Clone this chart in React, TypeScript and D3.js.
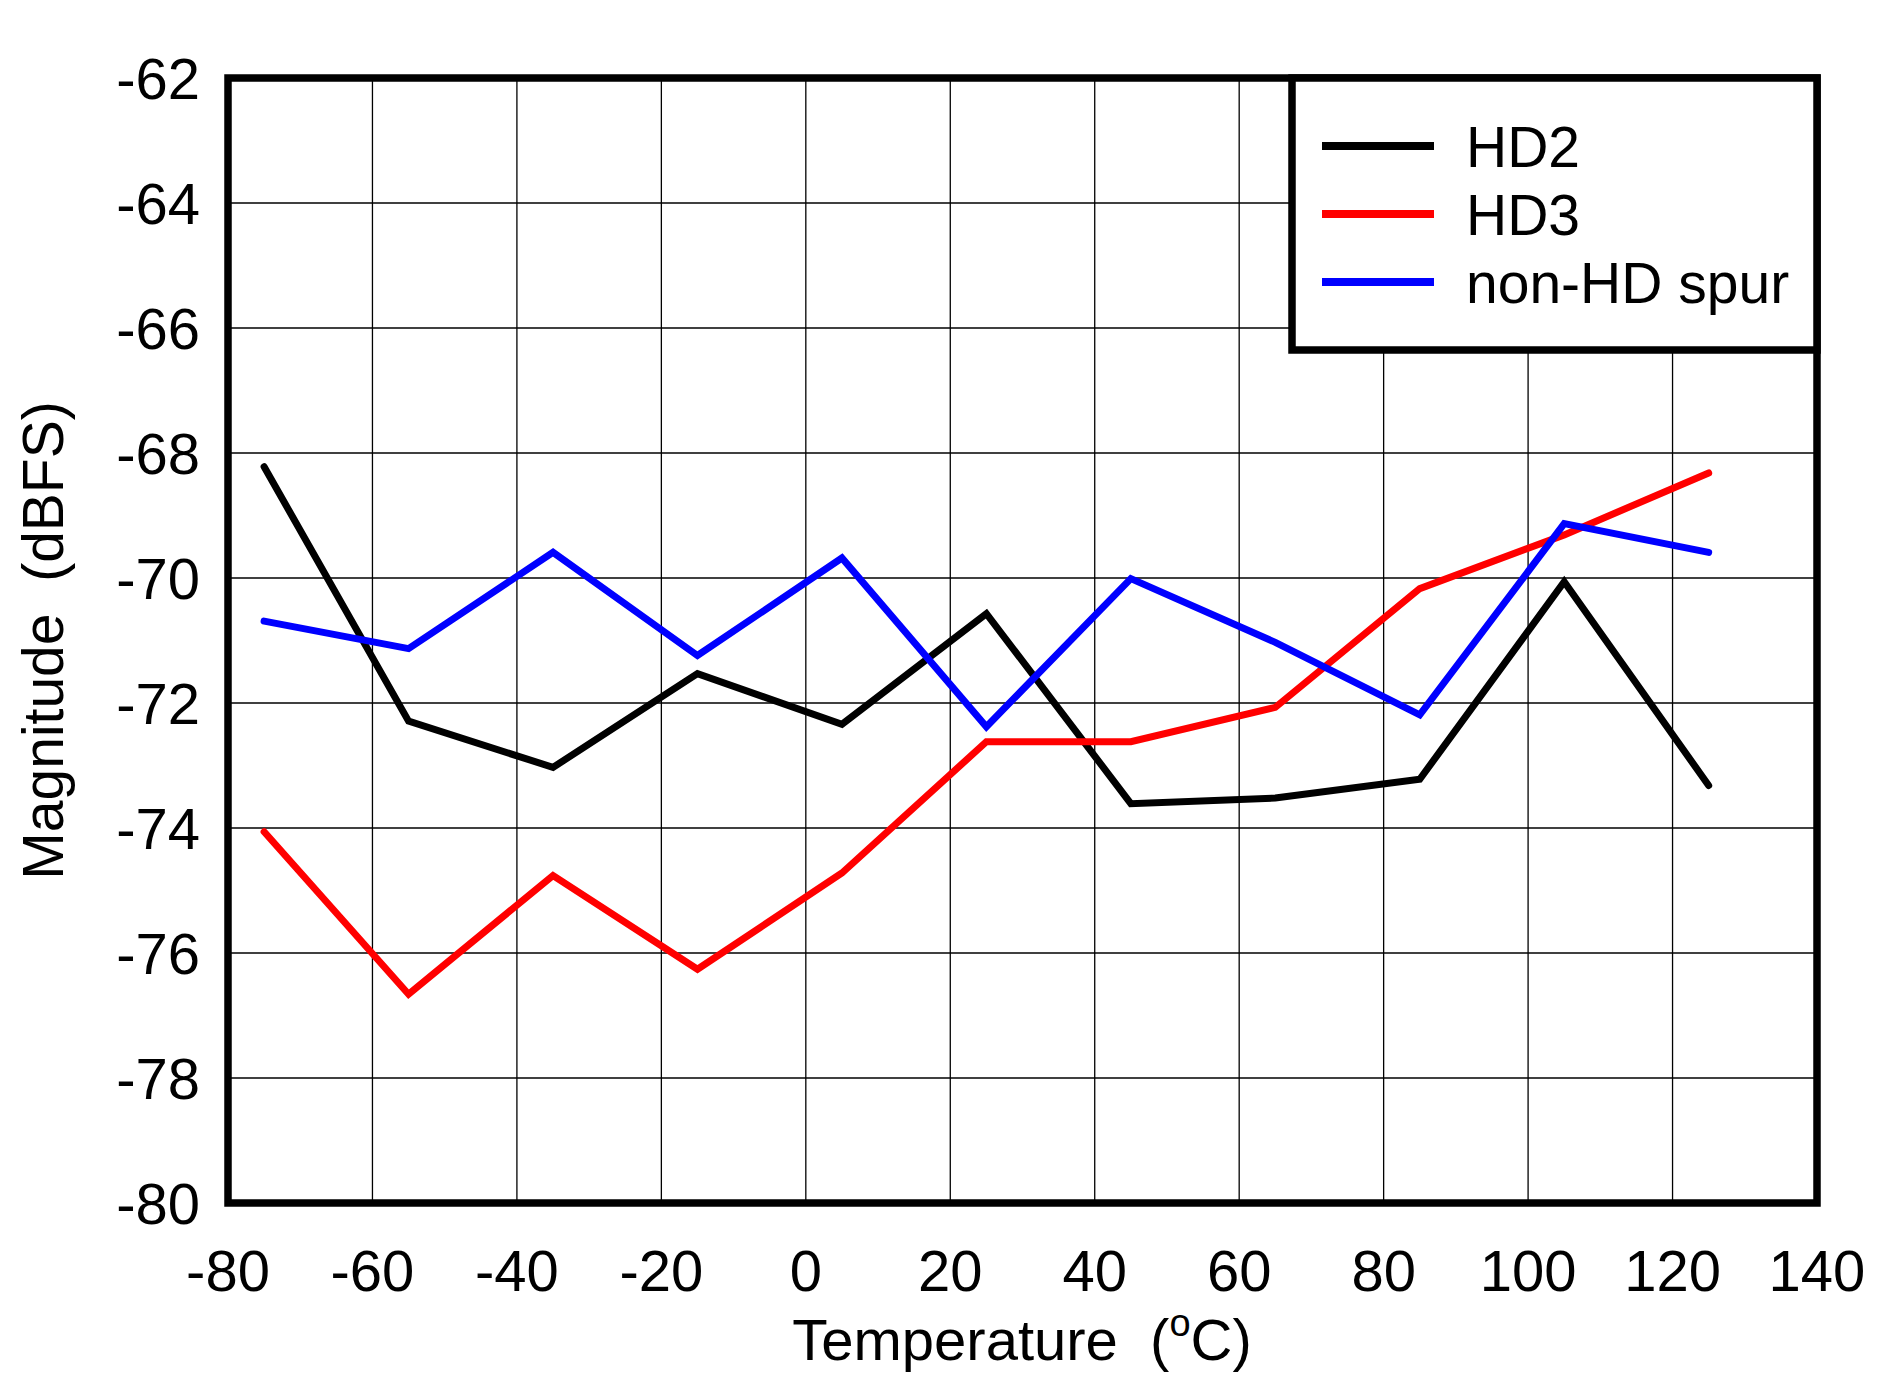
import * as d3 from 'd3';

const temps = [-75, -55, -35, -15, 5, 25, 45, 65, 85, 105, 125];
const hd2 = [-68.22, -72.29, -73.03, -71.53, -72.34, -70.57, -73.61, -73.52, -73.22, -70.06, -73.32];
const hd3 = [-74.06, -76.66, -74.76, -76.26, -74.72, -72.62, -72.62, -72.07, -70.17, -69.31, -68.32];
const nonHd = [-70.69, -71.13, -69.59, -71.24, -69.68, -72.38, -70.01, -71.03, -72.19, -69.13, -69.59];

const xTicks = [-80, -60, -40, -20, 0, 20, 40, 60, 80, 100, 120, 140];
const yTicks = [-62, -64, -66, -68, -70, -72, -74, -76, -78, -80];

const series = [
  { name: 'HD2', values: hd2, color: '#000000' },
  { name: 'HD3', values: hd3, color: '#ff0000' },
  { name: 'non-HD spur', values: nonHd, color: '#0000ff' },
];

const W = 1902;
const H = 1382;
const plot = { left: 228, right: 1817, top: 78, bottom: 1203 };
const font = '"Liberation Sans", Arial, Helvetica, sans-serif';

export default function App() {
  const x = d3.scaleLinear().domain([-80, 140]).range([plot.left, plot.right]);
  const y = d3.scaleLinear().domain([-80, -62]).range([plot.bottom, plot.top]);

  const line = d3.line<number>()
    .x((_, i) => x(temps[i]))
    .y(d => y(d));

  // legend box geometry
  const lg = { x0: 1292, x1: plot.right, y0: plot.top, y1: 350 };
  const legendRowY = (i: number) => 146 + i * 68;

  return (
    <svg width={W} height={H} style={{ position: 'absolute', left: 0, top: 0, background: '#fff' }}>
      <rect x={0} y={0} width={W} height={H} fill="#fff" />

      {/* grid */}
      <g stroke="#000" strokeWidth={1.3}>
        {xTicks.slice(1, -1).map(t => (
          <line key={'gx' + t} x1={x(t)} x2={x(t)} y1={plot.top} y2={plot.bottom} />
        ))}
        {yTicks.slice(1, -1).map(t => (
          <line key={'gy' + t} x1={plot.left} x2={plot.right} y1={y(t)} y2={y(t)} />
        ))}
      </g>

      {/* data */}
      {series.map(s => (
        <path
          key={s.name}
          d={line(s.values)!}
          fill="none"
          stroke={s.color}
          strokeWidth={7}
          strokeLinecap="round"
          strokeLinejoin="miter"
        />
      ))}

      {/* frame */}
      <rect
        x={plot.left}
        y={plot.top}
        width={plot.right - plot.left}
        height={plot.bottom - plot.top}
        fill="none"
        stroke="#000"
        strokeWidth={7.5}
      />

      {/* legend */}
      <rect
        x={lg.x0}
        y={lg.y0}
        width={lg.x1 - lg.x0}
        height={lg.y1 - lg.y0}
        fill="#fff"
        stroke="#000"
        strokeWidth={7.5}
      />
      {series.map((s, i) => (
        <g key={'lg' + s.name}>
          <line x1={1322} x2={1434} y1={legendRowY(i)} y2={legendRowY(i)} stroke={s.color} strokeWidth={8} />
          <text x={1466} y={legendRowY(i) + 21} fontFamily={font} fontSize={57} fill="#000">
            {s.name}
          </text>
        </g>
      ))}

      {/* y tick labels */}
      {yTicks.map(t => (
        <text
          key={'yl' + t}
          x={200}
          y={y(t)}
          dy="0.36em"
          textAnchor="end"
          fontFamily={font}
          fontSize={58}
          fill="#000"
        >
          {t}
        </text>
      ))}

      {/* x tick labels */}
      {xTicks.map(t => (
        <text
          key={'xl' + t}
          x={x(t)}
          y={1291}
          textAnchor="middle"
          fontFamily={font}
          fontSize={58}
          fill="#000"
        >
          {t}
        </text>
      ))}

      {/* axis titles */}
      <text
        x={1022}
        y={1360}
        textAnchor="middle"
        fontFamily={font}
        fontSize={58}
        fill="#000"
        style={{ whiteSpace: 'pre' }}
      >
        {'Temperature  ('}
        <tspan fontSize={38} dy={-24}>o</tspan>
        <tspan dy={24}>{'C)'}</tspan>
      </text>
      <text
        transform={`translate(63, ${(plot.top + plot.bottom) / 2}) rotate(-90)`}
        textAnchor="middle"
        fontFamily={font}
        fontSize={57}
        fill="#000"
        style={{ whiteSpace: 'pre' }}
      >
        {'Magnitude  (dBFS)'}
      </text>
    </svg>
  );
}
